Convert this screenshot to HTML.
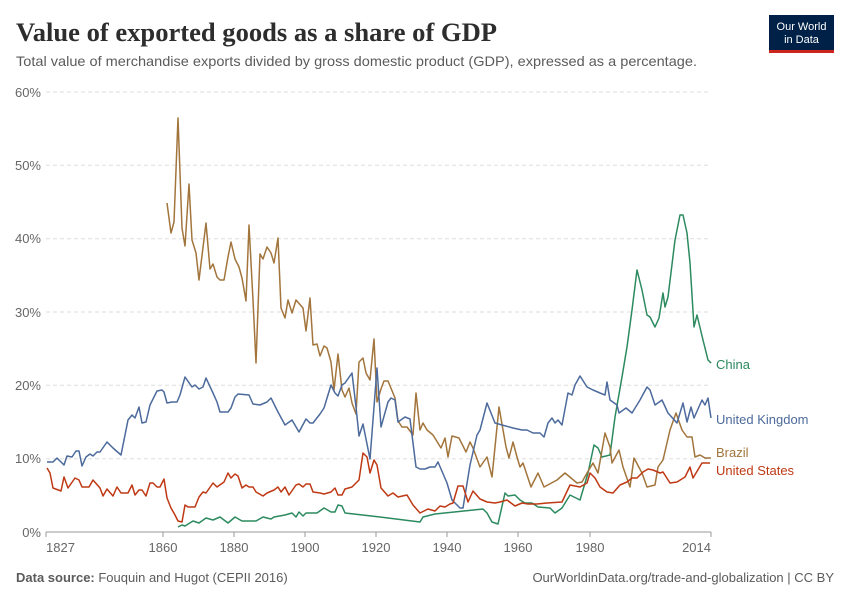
<!DOCTYPE html>
<html><head><meta charset="utf-8"><style>
html,body{margin:0;padding:0;background:#fff;}
svg{display:block;font-family:"Liberation Sans",sans-serif;}
</style></head><body>
<svg width="850" height="600" viewBox="0 0 850 600" xmlns="http://www.w3.org/2000/svg">
<text x="16" y="41" font-family="Liberation Serif,serif" font-weight="bold" font-size="26" fill="#2d2d2d" textLength="481" lengthAdjust="spacingAndGlyphs">Value of exported goods as a share of GDP</text>
<text x="16" y="66" font-size="14" fill="#5b5b5b" textLength="681" lengthAdjust="spacingAndGlyphs">Total value of merchandise exports divided by gross domestic product (GDP), expressed as a percentage.</text>
<rect x="769" y="15" width="65" height="35" fill="#002147"/>
<rect x="769" y="50" width="65" height="3" fill="#ce261e"/>
<text x="801.5" y="30" font-size="11" fill="#fff" text-anchor="middle">Our World</text>
<text x="801.5" y="43" font-size="11" fill="#fff" text-anchor="middle">in Data</text>
<g stroke="#ddd" stroke-dasharray="4,3" stroke-width="1">
<line x1="46" x2="711" y1="92" y2="92"/><line x1="46" x2="711" y1="165.3" y2="165.3"/><line x1="46" x2="711" y1="238.7" y2="238.7"/><line x1="46" x2="711" y1="312" y2="312"/><line x1="46" x2="711" y1="385.3" y2="385.3"/><line x1="46" x2="711" y1="458.7" y2="458.7"/>
</g>
<g font-size="13" fill="#666" text-anchor="end">
<text x="41" y="97">60%</text><text x="41" y="170">50%</text><text x="41" y="243">40%</text><text x="41" y="317">30%</text><text x="41" y="390">20%</text><text x="41" y="463">10%</text><text x="41" y="537">0%</text>
</g>
<line x1="46" x2="711" y1="532" y2="532" stroke="#999"/>
<g stroke="#999"><line x1="46" x2="46" y1="532" y2="537"/><line x1="163" x2="163" y1="532" y2="537"/><line x1="234" x2="234" y1="532" y2="537"/><line x1="305" x2="305" y1="532" y2="537"/><line x1="376" x2="376" y1="532" y2="537"/><line x1="447" x2="447" y1="532" y2="537"/><line x1="518" x2="518" y1="532" y2="537"/><line x1="590" x2="590" y1="532" y2="537"/><line x1="711" x2="711" y1="532" y2="537"/></g>
<g font-size="13" fill="#666" text-anchor="middle">
<text x="46" y="552" text-anchor="start">1827</text><text x="163" y="552">1860</text><text x="234" y="552">1880</text><text x="305" y="552">1900</text><text x="376" y="552">1920</text><text x="447" y="552">1940</text><text x="518" y="552">1960</text><text x="590" y="552">1980</text><text x="711" y="552" text-anchor="end">2014</text>
</g>
<g fill="none" stroke-width="1.5" stroke-linejoin="round">
<polyline stroke="#2c8a5f" points="178,527 182,525 185,526 193,521 199,523 206,518 213,520 220,517 228,523 235,517 242,521 256,521 263,517 271,519 274,517 285,515 292,513 296,517 299,512 303,516 306,513 317,513 324,508 331,512 335,512 338,505 342,506 345,513 380,517 420,522 423,517 435,514 483,509 487,513 492,522 498,524 505,493 508,496 515,495 520,500 525,503 532,503 538,507 550,508 555,513 562,508 570,495 580,500 588,473 594,445 598,448 602,457 610,455 615,417 622,377 627,347 632,310 637,270 642,290 647,315 650,317 655,327 659,318 663,293 665,307 668,297 675,240 680,215 683,215 687,233 690,263 694,327 697,315 703,340 708,360 711,363"/>
<polyline stroke="#a2753c" points="167,203 171,233 174,222 178,118 182,228 185,246 189,184 192,240 196,253 199,280 206,223 210,269 213,264 217,277 220,280 224,280 228,257 231,242 235,259 239,267 242,278 246,301 249,225 253,300 256,363 260,254 263,259 267,247 271,253 274,263 278,238 281,308 285,318 288,300 292,313 296,300 303,308 306,331 310,298 313,345 317,344 320,356 324,346 327,348 331,362 334,390 338,354 342,390 345,397 349,388 352,403 356,414 359,362 363,358 366,373 370,380 374,339 377,402 381,389 384,381 388,381 395,398 398,421 402,427 407,427 413,435 416,393 420,430 423,423 427,430 433,435 441,448 445,438 448,457 452,436 459,438 466,452 470,442 473,448 480,467 487,457 492,477 499,407 506,447 509,458 513,442 517,457 520,467 523,463 531,487 538,473 544,487 557,480 565,473 577,483 582,482 587,473 593,463 598,473 605,433 610,447 612,463 619,450 623,467 630,487 634,458 642,473 647,487 655,485 658,467 663,460 670,430 676,413 682,430 687,437 692,437 695,457 700,455 705,458 711,458"/>
<polyline stroke="#4c6a9c" points="47,462 53,462 57,458 64,465 67,456 72,457 76,451 79,451 82,466 86,457 90,454 93,456 97,452 100,452 107,442 113,448 121,455 128,420 132,415 135,418 139,407 142,423 146,422 150,405 157,391 162,390 164,392 167,403 172,402 177,402 180,395 185,377 192,387 195,385 199,389 203,387 206,378 213,393 217,402 220,412 228,412 231,408 235,397 238,394 249,395 253,404 260,405 267,402 271,398 278,412 285,425 292,420 299,432 306,419 310,423 313,423 320,414 324,408 331,385 335,393 338,396 342,385 345,383 352,373 356,407 359,436 363,424 370,459 377,368 381,427 388,402 391,398 395,400 398,422 405,417 410,419 416,467 420,469 425,469 430,467 435,467 438,462 447,483 452,500 460,508 463,508 470,465 477,435 480,430 487,403 495,423 502,425 513,428 522,430 527,430 533,433 540,433 544,437 548,423 552,418 555,423 558,420 562,425 568,393 572,395 575,385 580,376 587,387 593,390 600,393 605,395 607,382 610,400 617,405 619,413 626,408 632,413 640,400 647,387 650,390 655,405 662,400 668,413 677,423 683,403 687,422 691,407 694,418 702,400 705,405 708,398 711,418"/>
<polyline stroke="#be3914" points="47,468 50,473 53,488 61,491 64,477 68,488 75,478 79,480 82,487 89,487 93,480 100,488 103,496 107,489 113,496 117,487 121,493 128,493 132,485 135,495 139,490 142,490 146,496 150,483 153,483 157,487 160,487 164,479 167,498 171,508 175,515 178,521 182,522 185,505 188,507 195,507 199,497 203,492 206,493 213,483 217,487 224,482 228,473 231,478 235,474 238,476 242,488 246,485 249,487 253,487 256,492 263,496 267,493 274,490 278,487 281,492 285,487 289,495 296,485 299,484 303,487 306,484 310,484 313,492 320,493 324,494 331,492 335,488 338,495 342,495 345,489 352,487 356,483 359,480 363,453 367,457 370,473 374,460 377,465 381,488 388,496 393,493 398,497 407,495 413,505 420,513 428,509 435,511 440,506 445,507 450,504 453,503 458,486 463,486 468,502 473,491 480,499 487,502 495,503 500,502 507,500 515,506 522,503 528,504 537,504 547,503 562,502 570,485 580,487 587,483 590,473 595,478 600,487 607,492 613,493 620,485 627,482 632,478 637,478 643,472 648,469 653,470 660,473 663,472 670,483 677,482 685,477 690,467 693,478 702,463 710,463"/>
</g>
<g font-size="13">
<text x="716" y="369" fill="#2c8a5f">China</text>
<text x="716" y="424" fill="#4c6a9c">United Kingdom</text>
<text x="716" y="457" fill="#a2753c">Brazil</text>
<text x="716" y="475" fill="#be3914">United States</text>
</g>
<text x="16" y="582" font-size="13" fill="#5b5b5b"><tspan font-weight="bold">Data source:</tspan> Fouquin and Hugot (CEPII 2016)</text>
<text x="834" y="582" font-size="13" fill="#5b5b5b" text-anchor="end">OurWorldinData.org/trade-and-globalization | CC BY</text>
</svg>
</body></html>
